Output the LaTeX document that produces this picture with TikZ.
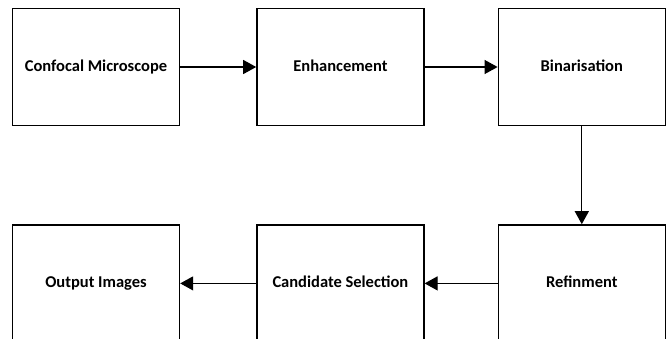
\documentclass[tikz,border=0pt]{standalone}
\usepackage{fontspec}
\setmainfont{Carlito}
\usetikzlibrary{arrows.meta,positioning}

\begin{document}
\begin{tikzpicture}[x=1pt, y=-1pt, font=\bfseries\fontsize{16.5}{18}\selectfont,
    stage/.style={draw, line width=1.4pt, minimum width=167pt,
                  minimum height=117pt, inner sep=0pt,
                  text height=1.9ex, text depth=0pt},
    flow/.style={line width=1.2pt, -{Triangle[length=13pt,width=14pt]}}]
        \useasboundingbox[fill=white] (0,0) rectangle (670,338);

        %% top row
        \node[stage] (microscope) at (96,67) {Confocal Microscope};
        \node[stage, right=76pt of microscope] (enhance) {Enhancement};
        \node[stage, right=73pt of enhance] (binar) {Binarisation};

        %% bottom row
        \node[stage, below=98pt of binar] (refine) {Refinment};
        \node[stage, left=73pt of refine] (candidate) {Candidate Selection};
        \node[stage, left=76pt of candidate] (output) {Output Images};

        %% flow
        \draw[flow] (microscope) -- (enhance);
        \draw[flow] (enhance) -- (binar);
        \draw[flow] (binar) -- (refine);
        \draw[flow] (refine) -- (candidate);
        \draw[flow] (candidate) -- (output);

\end{tikzpicture}
\end{document}
